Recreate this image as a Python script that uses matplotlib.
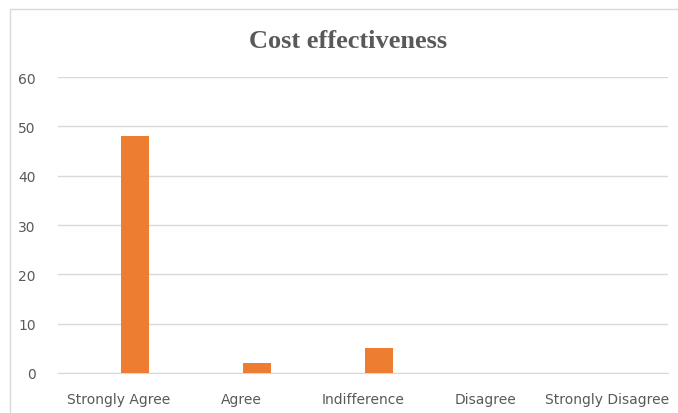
import matplotlib
matplotlib.use("Agg")
import matplotlib.pyplot as plt
from matplotlib.patches import Rectangle
import numpy as np

categories = ["Strongly Agree", "Agree", "Indifference", "Disagree", "Strongly Disagree"]
values = [48, 2, 5, 0, 0]
y_ticks = [0, 10, 20, 30, 40, 50, 60]

W, H = 678, 414
fig = plt.figure(figsize=(W / 100, H / 100), dpi=100)

# light frame around the chart area
fig.patches.append(Rectangle((10 / W, -0.1), 1.2, 1 - 10 / H + 0.1, transform=fig.transFigure,
                             fill=False, edgecolor="#d9d9d9", linewidth=1.0))

ax = fig.add_axes([58 / W, 1 - 374 / H, (668 - 58) / W, (374 - 78) / H])
x = np.arange(len(categories))
ax.bar(x + 0.13, values, width=0.23, color="#ED7D31", zorder=3)

ax.set_xlim(-0.5, len(categories) - 0.5)
ax.set_ylim(0, 60)
ax.set_yticks(y_ticks)
ax.set_xticks(x)
ax.set_xticklabels(categories)
ax.yaxis.grid(True, color="#d9d9d9", linewidth=1.0, zorder=0)
for s in ["top", "right", "left"]:
    ax.spines[s].set_visible(False)
ax.spines["bottom"].set_color("#d9d9d9")
ax.tick_params(axis="both", length=0, labelsize=10, labelcolor="#595959")
ax.tick_params(axis="y", pad=16)
ax.tick_params(axis="x", pad=14)

fig.text(348 / W, 1 - 42 / H, "Cost effectiveness", ha="center", va="center",
         fontsize=19, fontweight="bold", family="Liberation Serif", color="#595959")

fig.savefig("out.png", dpi=100)
